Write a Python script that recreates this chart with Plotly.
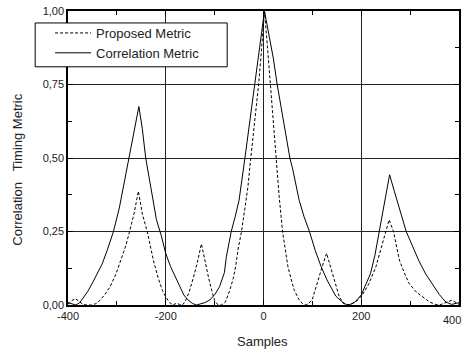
import plotly.graph_objects as go

# ---- data ----
corr_x = [-400, -392, -384, -376, -368, -360, -350, -340, -330, -320, -307, -295, -285, -275, -265, -255,
          -248, -241, -230, -219, -209, -200, -190, -180, -170, -163, -155, -145, -137, -128, -120, -110,
          -100, -90, -80, -76, -66, -58, -50, -38, -28, -18, -8, 2, 10, 20, 28, 40, 54, 60, 73, 83, 94,
          106, 118, 130, 141, 148, 160, 168, 175, 187, 200, 210, 219, 228, 237, 247, 258, 268, 280, 292,
          305, 318, 332, 346, 360, 373, 385, 400]
corr_y = [0.008, 0.003, 0.0, 0.008, 0.025, 0.045, 0.075, 0.105, 0.14, 0.185, 0.25, 0.33, 0.415, 0.50, 0.585, 0.675,
          0.60, 0.50, 0.395, 0.29, 0.235, 0.175, 0.13, 0.096, 0.06, 0.034, 0.018, 0.005, 0.0, 0.003, 0.008, 0.017,
          0.035, 0.062, 0.11, 0.164, 0.25, 0.30, 0.356, 0.50, 0.62, 0.75, 0.875, 1.0, 0.93, 0.84, 0.75, 0.635, 0.50, 0.46, 0.356, 0.30, 0.25,
          0.185, 0.13, 0.085, 0.05, 0.03, 0.012, 0.003, 0.0, 0.01, 0.034, 0.075, 0.107, 0.17, 0.25, 0.345, 0.443, 0.385, 0.32, 0.25,
          0.20, 0.15, 0.105, 0.07, 0.035, 0.01, 0.002, 0.008]

prop_x = [-400, -392, -385, -378, -370, -362, -352, -344, -335, -325, -314, -302, -290, -282, -274, -265, -256,
          -248, -238, -233, -225, -216, -207, -199, -192, -185, -178, -172, -166, -160, -152, -144, -136, -127,
          -120, -112, -106, -100, -94, -86, -78, -69, -62, -57, -52, -45, -38, -32, -26, -18, -10, -4, 2,
          8, 14, 20, 25, 32, 39, 45, 50, 57, 63, 72, 80, 86, 92, 100, 111, 120, 129, 137, 145, 155, 163, 170,
          180, 190, 202, 215, 230, 240, 249, 257, 266, 278, 288, 298, 312, 325, 340, 352, 360, 368, 378, 385, 392, 400]
prop_y = [0.003, 0.015, 0.022, 0.014, 0.003, 0.0, 0.0, 0.004, 0.015, 0.035, 0.062, 0.105, 0.16, 0.20, 0.25, 0.31, 0.387,
          0.31, 0.25, 0.21, 0.15, 0.095, 0.05, 0.025, 0.008, 0.0, 0.006, 0.002, 0.0, 0.012, 0.045, 0.09, 0.14, 0.208,
          0.15, 0.09, 0.05, 0.015, 0.002, 0.0, 0.01, 0.05, 0.09, 0.13, 0.19, 0.25, 0.33, 0.40, 0.50, 0.62, 0.75, 0.87, 1.0,
          0.88, 0.75, 0.60, 0.50, 0.37, 0.25, 0.18, 0.13, 0.085, 0.05, 0.02, 0.004, 0.0, 0.004, 0.02, 0.085, 0.13, 0.176, 0.13, 0.08, 0.028, 0.006, 0.0,
          0.003, 0.012, 0.034, 0.07, 0.13, 0.19, 0.25, 0.29, 0.25, 0.153, 0.11, 0.073, 0.045, 0.028, 0.01, 0.002, 0.0, 0.005, 0.013, 0.016, 0.01, 0.002]

x_tickvals = [-400, -200, 0, 200, 400]
x_ticktext = ["-400", "-200", "0", "200", "400"]
y_tickvals = [0.0, 0.25, 0.5, 0.75, 1.0]
y_ticktext = ["0,00", "0,25", "0,50", "0,75", "1,00"]

FONT = "Liberation Sans, Arial, sans-serif"
W, H = 466, 352
L, R, T, B = 68, 5, 10, 47
pw, ph = W - L - R, H - T - B


def px(xp):
    return (xp - L) / pw


def py(yp):
    return (H - B - yp) / ph


fig = go.Figure()
fig.add_trace(go.Scatter(x=prop_x, y=prop_y, mode="lines", name="Proposed Metric",
                         line=dict(color="black", width=1, dash="3px,2px")))
fig.add_trace(go.Scatter(x=corr_x, y=corr_y, mode="lines", name="Correlation Metric",
                         line=dict(color="black", width=1)))

axis_common = dict(showline=True, linecolor="black", linewidth=1.5, mirror="ticks",
                   ticks="inside", ticklen=5, tickcolor="black", tickwidth=1,
                   showgrid=True, gridcolor="#222", gridwidth=1, zeroline=False,
                   tickfont=dict(family=FONT, size=11, color="#222"))

# x tick labels: the last one ("400") is drawn as an annotation kept inside the page edge
fig.update_xaxes(range=[-400, 400], tickvals=x_tickvals, ticktext=x_ticktext[:-1] + [""],
                 minor=dict(ticks="inside", ticklen=4, tickvals=[-300, -100, 100, 300], tickcolor="black", showgrid=False),
                 **axis_common)
fig.update_yaxes(range=[0, 1.0], tickvals=y_tickvals, ticktext=y_ticktext,
                 minor=dict(ticks="inside", ticklen=4, tickvals=[0.125, 0.375, 0.625, 0.875], tickcolor="black", showgrid=False),
                 **axis_common)

fig.update_layout(
    width=W, height=H,
    margin=dict(l=L, r=R, t=T, b=B, pad=0),
    paper_bgcolor="white", plot_bgcolor="white",
    font=dict(family=FONT, size=13, color="#222"),
    showlegend=True,
    legend=dict(x=px(50), y=py(17), xanchor="left", yanchor="top",
                bgcolor="rgba(0,0,0,0)", borderwidth=0,
                font=dict(family=FONT, size=13, color="#222"),
                tracegroupgap=0, itemwidth=36),
    shapes=[dict(type="rect", xref="paper", yref="paper",
                 x0=px(35), x1=px(228), y0=py(66), y1=py(22),
                 fillcolor="white", line=dict(color="black", width=1), layer="above")],
    annotations=[
        dict(text=x_ticktext[-1], xref="paper", yref="paper", x=px(465), y=py(320),
             xanchor="right", yanchor="middle", showarrow=False,
             font=dict(family=FONT, size=11, color="#222")),
        dict(text="Samples", xref="paper", yref="paper", x=px(263), y=py(342),
             xanchor="center", yanchor="middle", showarrow=False,
             font=dict(family=FONT, size=13, color="#222")),
        dict(text="Correlation\u00a0\u00a0\u00a0Timing Metric", xref="paper", yref="paper",
             x=px(17), y=py(169), xanchor="center", yanchor="middle", textangle=-90,
             showarrow=False, font=dict(family=FONT, size=13, color="#222")),
    ],
)

fig.write_html("out.html")
